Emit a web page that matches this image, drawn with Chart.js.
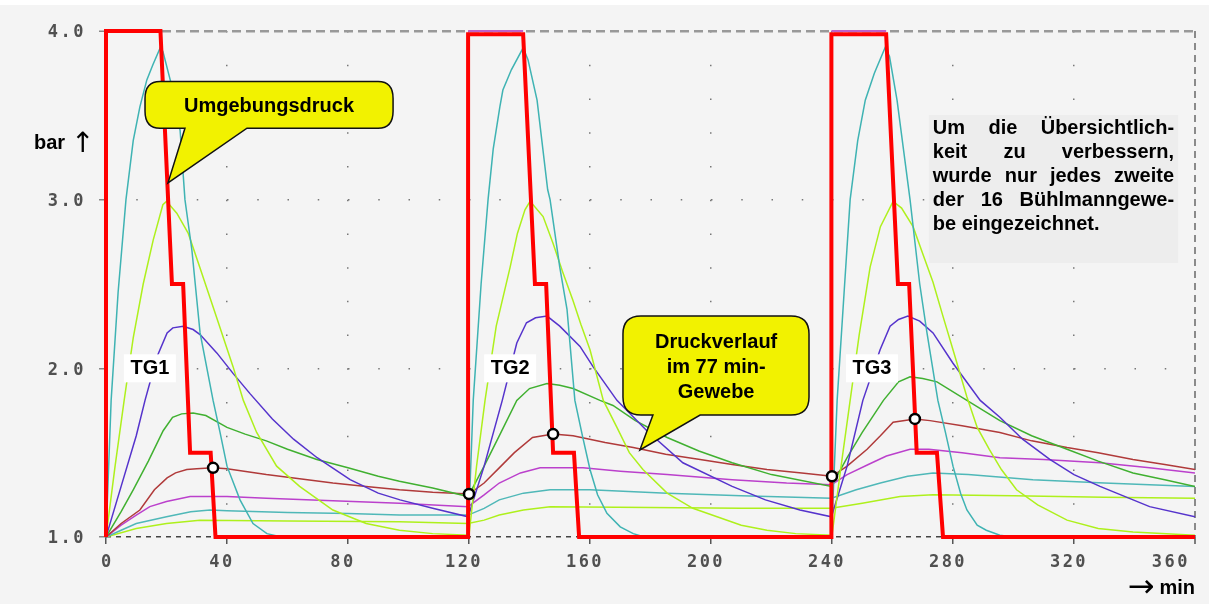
<!DOCTYPE html>
<html>
<head>
<meta charset="utf-8">
<script src="https://cdn.jsdelivr.net/npm/chart.js@4.4.1/dist/chart.umd.min.js"></script>
<style>
html, body { margin: 0; padding: 0; }
body { width: 1209px; height: 604px; overflow: hidden; background: linear-gradient(#fff 0 5px, #f4f4f4 5px); }
canvas { display: block; }
</style>
</head>
<body>
<canvas id="chart" width="1209" height="604"></canvas>
<script>
// Zeitachse in min, Druck in bar
const xTicks = [0, 40, 80, 120, 160, 200, 240, 280, 320, 360];
const yTicks = [1.0, 2.0, 3.0, 4.0];

// Umgebungsdruck, drei Tauchgaenge
const umgebungsdruck = [[0,1.0],[0,4.0],[18,4.0],[21.8,2.5],[25.5,2.5],[27.8,1.5],[34.6,1.5],[36.2,1.0],
  [119.7,1.0],[119.7,3.98],[137.9,3.98],[141.8,2.5],[145.5,2.5],[147.8,1.5],[154.7,1.5],[156.4,1.0],
  [239.8,1.0],[239.8,3.98],[257.9,3.98],[261.8,2.5],[265.5,2.5],[268,1.5],[274.7,1.5],[276.7,1.0],[360,1.0]];
// schmale violette Linie oberhalb der Plateaus von TG2 und TG3
const plateauLinie = [[119.7,4.0],[137.9,4.0],[null,null],[239.8,4.0],[257.9,4.0]];

// jedes zweite Buehlmann-Gewebe (schnell -> langsam)
const gewebeTuerkis1 = [[0,1.0],[1.7,1.81],[4,2.45],[6.6,3.0],[9,3.35],[11.2,3.55],[13.5,3.71],[15.5,3.8],[17.9,3.9],[18.8,3.88],[21.8,3.67],[24.5,3.41],[26.1,3.0],[28.4,2.7],[31.1,2.21],[35.4,1.81],[37.7,1.62],[40,1.42],[44.3,1.22],[48.6,1.08],[53.2,1.02],[58,1.0],[119.7,1.0],
  [121.4,1.81],[124,2.5],[126.3,3.0],[128,3.3],[130.2,3.55],[131.2,3.65],[134,3.77],[137.9,3.9],[139.5,3.83],[142.5,3.59],[146,3.06],[146.8,3.0],[150,2.6],[152.4,2.35],[155,1.81],[157.5,1.6],[160,1.4],[162.5,1.25],[165.6,1.14],[170,1.06],[174.3,1.02],[178,1.0],[239.8,1.0],
  [241.7,1.81],[244,2.45],[246,3.0],[248.5,3.35],[251,3.59],[254,3.75],[257.5,3.9],[259,3.85],[261.5,3.59],[265.8,3.0],[269,2.5],[271.4,2.21],[275,1.81],[277.5,1.62],[280,1.42],[282.5,1.26],[284.6,1.16],[288,1.07],[291,1.04],[295.5,1.01],[300,1.0],[360,1.0]];
const gewebeGelb1 = [[0,1.0],[3,1.42],[6,1.81],[9,2.18],[12.3,2.5],[15.6,2.76],[18.8,2.97],[20,2.99],[23.4,2.92],[27.2,2.8],[31,2.6],[36.6,2.3],[42,2.01],[45.4,1.81],[49.8,1.62],[56.4,1.42],[64,1.3],[75,1.16],[86,1.08],[97,1.04],[108,1.02],[120,1.01],
  [122.5,1.42],[125.3,1.81],[129,2.25],[133.6,2.6],[136,2.8],[138.5,2.94],[140.2,2.99],[144.5,2.9],[147.8,2.74],[151,2.57],[154.4,2.4],[157,2.26],[160,2.11],[164.4,1.81],[168.9,1.65],[173,1.5],[177.5,1.4],[185.5,1.26],[194,1.17],[202,1.12],[210,1.07],[218.5,1.04],[228,1.02],[240,1.01],
  [243,1.42],[246,1.81],[249,2.2],[252.6,2.6],[256,2.84],[260.2,2.99],[263,2.95],[266.8,2.84],[270,2.68],[273.4,2.51],[276.5,2.32],[280,2.11],[284.6,1.83],[288,1.65],[292,1.52],[296,1.4],[301,1.28],[308,1.19],[317.7,1.1],[328,1.05],[339.5,1.03],[360,1.01]];
const gewebeBlau = [[0,1.0],[5,1.3],[10,1.6],[12.9,1.81],[16.9,2.07],[20.2,2.21],[22.1,2.24],[25.5,2.25],[28.8,2.23],[31.1,2.2],[36.7,2.09],[42,1.97],[47.6,1.85],[55,1.7],[62,1.58],[69.8,1.47],[80.7,1.34],[90,1.26],[97.2,1.22],[108,1.17],[119.7,1.12],
  [125,1.42],[131,1.81],[135.8,2.15],[139,2.27],[142,2.3],[145.8,2.31],[150,2.25],[156.7,2.13],[161,2.01],[168.9,1.81],[178.8,1.63],[190.7,1.44],[207,1.3],[218,1.22],[229.4,1.16],[239.8,1.12],
  [245,1.42],[250.2,1.81],[255.9,2.11],[259.2,2.25],[262,2.29],[265.1,2.31],[269,2.28],[273.4,2.21],[280,2.03],[289,1.81],[295.5,1.71],[303,1.58],[312,1.46],[320,1.37],[328.6,1.3],[345,1.18],[360,1.12]];
const gewebeGruen = [[0,1.0],[5,1.15],[9,1.28],[14,1.45],[18.9,1.63],[22,1.71],[25,1.73],[28.8,1.735],[33,1.72],[40,1.65],[46,1.61],[53,1.57],[60,1.52],[69.7,1.46],[80,1.41],[90,1.36],[97,1.33],[108,1.29],[119.7,1.24],
  [125,1.42],[130,1.6],[135.8,1.81],[140,1.88],[145.8,1.91],[150,1.9],[154.4,1.88],[163.3,1.81],[167.6,1.78],[175,1.69],[185.5,1.59],[196,1.51],[207,1.44],[220,1.37],[239.8,1.3],
  [245,1.47],[250,1.62],[257,1.81],[262,1.92],[265.8,1.95],[270,1.94],[274.7,1.92],[284.6,1.81],[295.5,1.69],[306,1.6],[317.7,1.52],[328,1.45],[339.5,1.38],[350,1.34],[360,1.3]];
const gewebeRot77 = [[0,1.0],[5,1.08],[11.2,1.16],[16,1.28],[20.2,1.35],[23,1.38],[26.7,1.4],[30,1.405],[35.4,1.41],[40,1.405],[53,1.37],[64,1.345],[75,1.32],[86,1.3],[97,1.28],[108,1.265],[120,1.255],
  [125,1.32],[130,1.41],[135,1.5],[141,1.59],[147.8,1.61],[154.4,1.6],[165,1.56],[174.3,1.53],[185,1.49],[196.4,1.46],[207,1.43],[218.5,1.4],[230,1.38],[240,1.36],
  [245,1.42],[251.6,1.52],[256,1.6],[260.2,1.68],[267.4,1.7],[272.4,1.69],[283,1.66],[295.5,1.62],[306,1.57],[317.7,1.53],[328,1.5],[339.5,1.46],[350,1.43],[360,1.4]];
const gewebeMagenta = [[0,1.0],[5,1.07],[10,1.13],[14.5,1.18],[20,1.21],[27.8,1.24],[40,1.24],[53,1.23],[75,1.215],[97,1.2],[119.7,1.18],
  [125,1.25],[130,1.32],[137,1.38],[143.5,1.41],[157.7,1.41],[170,1.39],[185.5,1.37],[207,1.34],[225,1.32],[239.8,1.31],
  [245,1.37],[252,1.43],[258,1.48],[265.8,1.52],[272,1.52],[283,1.5],[295.5,1.47],[310,1.46],[328.6,1.44],[345,1.41],[360,1.38]];
const gewebeTuerkis2 = [[0,1.0],[5,1.04],[10,1.08],[20,1.12],[28,1.15],[34.4,1.16],[40,1.155],[60,1.145],[80,1.14],[97,1.13],[119.7,1.13],
  [125,1.17],[130,1.22],[138,1.26],[146.8,1.28],[160,1.28],[185.5,1.26],[210,1.245],[239.8,1.23],
  [248,1.28],[256,1.32],[265,1.36],[273.4,1.38],[285,1.37],[306.4,1.34],[330,1.32],[360,1.3]];
const gewebeGelb2 = [[0,1.0],[10,1.05],[20,1.08],[31,1.1],[60,1.095],[97,1.09],[119.7,1.08],
  [125,1.1],[130,1.13],[138,1.16],[146.8,1.18],[180,1.175],[210,1.17],[239.8,1.17],
  [250,1.2],[262.5,1.24],[273.4,1.25],[300,1.245],[330,1.235],[360,1.23]];

// Kreise auf dem 77-min-Gewebe
const markierungen = [[35.4,1.41],[120,1.255],[147.8,1.61],[240,1.36],[267.4,1.7]];

const tgLabels = ['TG1', 'TG2', 'TG3'];
const tgZeit = [14.5, 133.6, 253.2];
const hinweisZeilen = ['Um die Übersichtlich-', 'keit zu verbessern,', 'wurde nur jedes zweite', 'der 16 Bühlmanngewe-', 'be eingezeichnet.'];

const tickFont = { family: '"DejaVu Sans Mono", "Liberation Mono", monospace', size: 17, weight: 'bold' };
const textFont = 'bold 20px "Liberation Sans", Arial, sans-serif';

function tissue(label, data, color) {
  return { label, data, borderColor: color, borderWidth: 1.5, pointRadius: 0, tension: 0, fill: false };
}

const tickSpacing = {
  id: 'tickSpacing',
  beforeDraw(chart) { chart.ctx.letterSpacing = '2.5px'; },
  beforeDatasetsDraw(chart) { chart.ctx.letterSpacing = '0px'; }
};

function blase(ctx, l, t, r, b, rx, ry, baseL, baseR, tipX, tipY) {
  ctx.beginPath();
  ctx.moveTo(l + rx, t);
  ctx.lineTo(r - rx, t);
  ctx.quadraticCurveTo(r, t, r, t + ry);
  ctx.lineTo(r, b - ry);
  ctx.quadraticCurveTo(r, b, r - rx, b);
  ctx.lineTo(baseR, b);
  ctx.lineTo(tipX, tipY);
  ctx.lineTo(baseL, b);
  ctx.lineTo(l + rx, b);
  ctx.quadraticCurveTo(l, b, l, b - ry);
  ctx.lineTo(l, t + ry);
  ctx.quadraticCurveTo(l, t, l + rx, t);
  ctx.closePath();
  ctx.fillStyle = '#f2f200';
  ctx.fill();
  ctx.lineWidth = 1.5;
  ctx.strokeStyle = '#111';
  ctx.stroke();
}

const annotate = {
  id: 'annotate',
  afterDatasetsDraw(chart) {
    const { ctx, chartArea, scales: { x, y } } = chart;
    const X = v => x.getPixelForValue(v), Y = v => y.getPixelForValue(v);
    ctx.save();
    ctx.font = textFont;
    ctx.textBaseline = 'middle';

    // Sprechblase Umgebungsdruck
    blase(ctx, X(12.9), Y(3.70), X(94.9), Y(3.424), 15, 17, X(26.1), X(46.6), X(20.5), Y(3.10));
    ctx.fillStyle = '#000';
    ctx.textAlign = 'center';
    ctx.fillText('Umgebungsdruck', X(53.9), Y(3.555));

    // Sprechblase 77-min-Gewebe
    blase(ctx, X(170.9), Y(2.31), X(232.4), Y(1.723), 18, 18, X(180.8), X(196.4), X(176.5), Y(1.516));
    ctx.fillStyle = '#000';
    ['Druckverlauf', 'im 77 min-', 'Gewebe'].forEach((s, i) => ctx.fillText(s, X(201.7), Y(2.156) + i * 25));

    // Hinweisbox
    const bl = X(272), br = X(354.4), bt = Y(3.502), bb = Y(2.624);
    ctx.fillStyle = '#ededed';
    ctx.fillRect(bl, bt, br - bl, bb - bt);
    ctx.fillStyle = '#000';
    ctx.textAlign = 'left';
    const tl = bl + 4, tr = br - 4;
    hinweisZeilen.forEach((line, i) => {
      const yy = bt + 13 + i * 24.2;
      if (i === hinweisZeilen.length - 1) { ctx.fillText(line, tl, yy); return; }
      const words = line.split(' ');
      const sum = words.reduce((s, w) => s + ctx.measureText(w).width, 0);
      const gap = (tr - tl - sum) / (words.length - 1);
      let xx = tl;
      words.forEach(w => { ctx.fillText(w, xx, yy); xx += ctx.measureText(w).width + gap; });
    });

    // TG-Beschriftungen
    ctx.textAlign = 'center';
    tgLabels.forEach((s, i) => {
      const cx = X(tgZeit[i]), cy = Y(2.0);
      ctx.fillStyle = '#fff';
      ctx.fillRect(cx - 26, cy - 14, 52, 28);
      ctx.fillStyle = '#000';
      ctx.fillText(s, cx, cy);
    });

    // Achsentitel
    ctx.textAlign = 'left';
    const by = Y(3.335);
    ctx.fillText('bar', chartArea.left - 72, by);
    ctx.font = '28px "DejaVu Sans", sans-serif';
    ctx.fillText('\u2191', chartArea.left - 35, by + 2);
    ctx.font = textFont;
    ctx.textAlign = 'right';
    const my = chartArea.bottom + 51;
    ctx.fillText('min', chartArea.right, my);
    const mw = ctx.measureText('min').width;
    ctx.font = '32px "DejaVu Sans", sans-serif';
    ctx.fillText('\u2192', chartArea.right - mw - 5, my + 1);
    ctx.restore();
  }
};

const dotPeriodX = c => Math.abs(c.chart.scales.y.getPixelForValue(3.8) - c.chart.scales.y.getPixelForValue(4));
const dotPeriodY = c => Math.abs(c.chart.scales.x.getPixelForValue(10) - c.chart.scales.x.getPixelForValue(0));

new Chart(document.getElementById('chart'), {
  type: 'line',
  data: {
    datasets: [
      { label: 'Markierung', data: markierungen, showLine: false, pointRadius: 5, pointBackgroundColor: '#fff', pointBorderColor: '#000', pointBorderWidth: 2.5, clip: false },
      { label: 'Umgebungsdruck', data: umgebungsdruck, borderColor: '#ff0000', borderWidth: 4, pointRadius: 0, tension: 0, borderJoinStyle: 'miter', clip: false },
      { label: 'Plateau', data: plateauLinie, borderColor: '#c060c8', borderWidth: 2, pointRadius: 0, spanGaps: false, clip: false },
      tissue('Gewebe 1', gewebeTuerkis1, '#3fb3b3'),
      tissue('Gewebe 3', gewebeGelb1, '#aef01c'),
      tissue('Gewebe 5', gewebeBlau, '#5533cc'),
      tissue('Gewebe 7', gewebeGruen, '#40b030'),
      tissue('Gewebe 9 (77 min)', gewebeRot77, '#b03a3a'),
      tissue('Gewebe 11', gewebeMagenta, '#bb40cc'),
      tissue('Gewebe 13', gewebeTuerkis2, '#4fb8b8'),
      tissue('Gewebe 15', gewebeGelb2, '#aef01c')
    ]
  },
  options: {
    responsive: false,
    animation: false,
    devicePixelRatio: 1,
    layout: { padding: { top: 31, right: 14, bottom: 0, left: 0 }, autoPadding: false },
    plugins: { legend: { display: false }, tooltip: { enabled: false } },
    scales: {
      x: {
        type: 'linear', min: 0, max: 360,
        afterFit: s => { s.height = 67; },
        afterBuildTicks: s => { s.ticks = xTicks.map(v => ({ value: v })); },
        ticks: { align: 'inner', labelOffset: -5, padding: 8, color: '#505050', font: tickFont, maxRotation: 0, autoSkip: false },
        grid: {
          color: c => c.tick && c.tick.value === 0 ? 'rgba(0,0,0,0)' : (c.tick && c.tick.value === 360 ? '#8a8a8a' : '#777'),
          lineWidth: c => c.tick && c.tick.value === 360 ? 2 : 1.5,
          tickLength: 7, tickColor: '#555', tickWidth: 1.5
        },
        border: {
          display: false,
          dash: c => { if (!c.tick) return []; if (c.tick.value === 360) return [7, 5]; const p = dotPeriodX(c); return [1.5, p - 1.5]; }
        }
      },
      y: {
        type: 'linear', min: 1, max: 4,
        afterFit: s => { s.width = 106; },
        afterBuildTicks: s => { s.ticks = yTicks.map(v => ({ value: v })); },
        ticks: { callback: v => v.toFixed(1), padding: 13, labelOffset: 2, color: '#505050', font: tickFont },
        grid: {
          color: c => !c.tick ? '#777' : (c.tick.value === 4 ? '#999' : (c.tick.value === 1 ? '#444' : '#777')),
          lineWidth: c => c.tick && c.tick.value === 4 ? 2.5 : 1.5,
          tickLength: 7, tickColor: '#888', tickWidth: 1.5
        },
        border: {
          display: false,
          dash: c => { if (!c.tick) return []; if (c.tick.value === 4) return [9, 5]; if (c.tick.value === 1) return [5, 5]; const p = dotPeriodY(c); return [1.5, p - 1.5]; }
        }
      }
    }
  },
  plugins: [tickSpacing, annotate]
});
</script>
</body>
</html>
